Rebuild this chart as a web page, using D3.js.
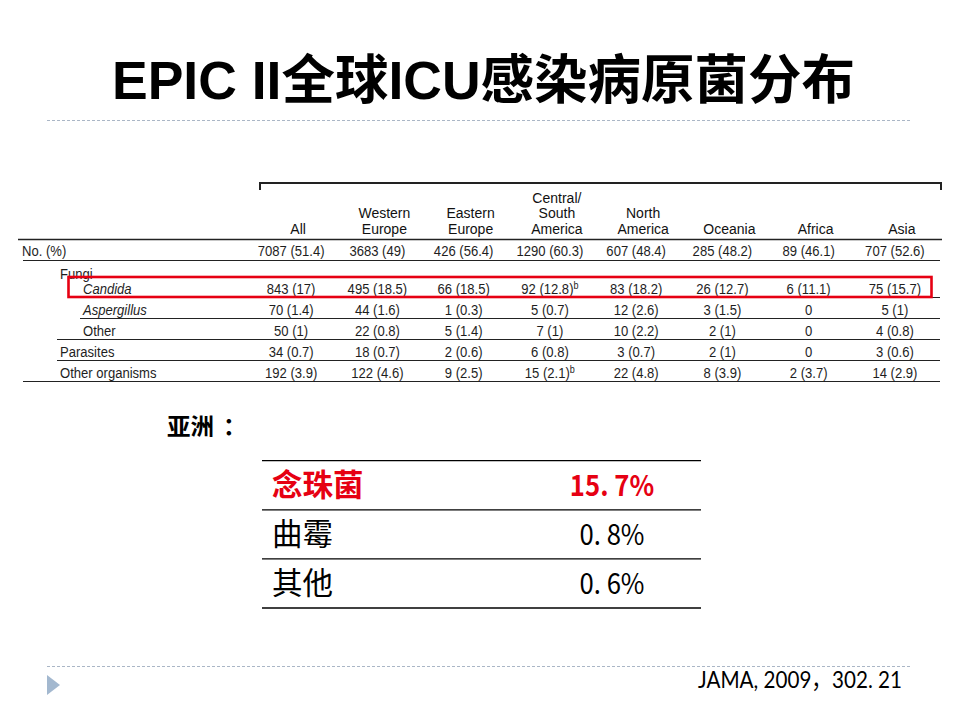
<!DOCTYPE html>
<html lang="zh">
<head>
<meta charset="utf-8">
<title>EPIC II</title>
<script src="https://cdnjs.cloudflare.com/ajax/libs/d3/7.8.5/d3.min.js"></script>
<style>
  body { margin: 0; background: #fff; }
  svg { display: block; }
</style>
</head>
<body>
<div id="chart"></div>
<script>
// column headers of the EPIC II table
const regions = ["All", "Western Europe", "Eastern Europe", "Central/South America",
                 "North America", "Oceania", "Africa", "Asia"];
const headerLines = [["All"], ["Western", "Europe"], ["Eastern", "Europe"],
                     ["Central/", "South", "America"], ["North", "America"],
                     ["Oceania"], ["Africa"], ["Asia"]];

// No. (%) row
const totalCount = [7087, 3683, 426, 1290, 607, 285, 89, 707];
const totalPct   = [51.4, 49, 56.4, 60.3, 48.4, 48.2, 46.1, 52.6];

// body rows
const rowLabels = ["Candida", "Aspergillus", "Other", "Parasites", "Other organisms"];
const candidaCount     = [843, 495, 66, 92, 83, 26, 6, 75];
const candidaPct       = [17, 18.5, 18.5, 12.8, 18.2, 12.7, 11.1, 15.7];
const aspergillusCount = [70, 44, 1, 5, 12, 3, 0, 5];
const aspergillusPct   = [1.4, 1.6, 0.3, 0.7, 2.6, 1.5, null, 1];
const otherFungiCount  = [50, 22, 5, 7, 10, 2, 0, 4];
const otherFungiPct    = [1, 0.8, 1.4, 1, 2.2, 1, null, 0.8];
const parasitesCount   = [34, 18, 2, 6, 3, 2, 0, 3];
const parasitesPct     = [0.7, 0.7, 0.6, 0.8, 0.7, 1, null, 0.6];
const otherOrgCount    = [192, 122, 9, 15, 22, 8, 2, 14];
const otherOrgPct      = [3.9, 4.6, 2.5, 2.1, 4.8, 3.9, 3.7, 2.9];
const footnoteRows = ["Candida", "Other organisms"];   // "b" in Central/South America

// Asia summary
const asiaLabels = ["念珠菌", "曲霉", "其他"];
const asiaPct    = [15.7, 0.8, 0.6];

const w = 960, h = 720;
const latin = "'Liberation Sans', Arial, Helvetica, sans-serif";
const cjk = "'Noto Sans CJK SC', 'Liberation Sans', sans-serif";
const red = "#e60012";

const svg = d3.select("#chart").append("svg")
    .attr("width", w)
    .attr("height", h);

// title
svg.append("text")
    .attr("x", 112)
    .attr("y", 99)
    .attr("font-family", "'Liberation Sans', 'Noto Sans CJK SC', sans-serif")
    .attr("font-weight", "bold")
    .attr("font-size", 53.5)
    .attr("fill", "#000")
    .text("EPIC II全球ICU感染病原菌分布");

svg.append("line")
    .attr("x1", 47).attr("x2", 912)
    .attr("y1", 120.5).attr("y2", 120.5)
    .attr("stroke", "#aab6c6")
    .attr("stroke-dasharray", "3,2");

// ---------- EPIC II table ----------
const xCol = d3.scaleBand().domain(regions).range([255, 945]);
const colC = r => xCol(r) + xCol.bandwidth() / 2;
const dataC = r => colC(r) - 7;

const rows = [
  {label: "Candida", count: candidaCount, pct: candidaPct, indent: 83, italic: true, lineX: 80},
  {label: "Aspergillus", count: aspergillusCount, pct: aspergillusPct, indent: 83, italic: true, lineX: 80},
  {label: "Other", count: otherFungiCount, pct: otherFungiPct, indent: 83, italic: false, lineX: 57},
  {label: "Parasites", count: parasitesCount, pct: parasitesPct, indent: 60, italic: false, lineX: 57},
  {label: "Other organisms", count: otherOrgCount, pct: otherOrgPct, indent: 60, italic: false, lineX: 23}
];
const yRow = d3.scaleBand().domain(rowLabels).range([276.5, 381.5]);

const table = svg.append("g")
    .attr("font-family", latin)
    .attr("fill", "#1e1e1e");

// bracket over the region columns
table.append("path")
    .attr("d", `M${xCol.range()[0] + 5},190 V183 H${xCol.range()[1] - 4} V190`)
    .attr("fill", "none")
    .attr("stroke", "#222")
    .attr("stroke-width", 2);

// headers
regions.forEach((r, i) => {
  const lines = headerLines[i];
  lines.forEach((t, j) => {
    table.append("text")
        .attr("x", colC(r))
        .attr("y", 233.5 - (lines.length - 1 - j) * 15.5)
        .attr("text-anchor", "middle")
        .attr("font-size", 14)
        .attr("fill", "#111")
        .text(t);
  });
});

// horizontal rules
const rule = (x1, x2, y, sw) => table.append("line")
    .attr("x1", x1).attr("x2", x2).attr("y1", y).attr("y2", y)
    .attr("stroke", "#222").attr("stroke-width", sw || 1);
rule(18, 942, 239.5, 1.4);
rule(23, 940, 260.5, 1.1);
rows.forEach(r => rule(r.lineX, 940, yRow(r.label) + yRow.bandwidth(), 1.1));

const cellText = (c, p) => p == null ? String(c) : `${c} (${p})`;
const cell = (x, y, str, opts) => {
  const t = table.append("text")
      .attr("transform", `translate(${x},${y}) scale(0.86,1)`)
      .attr("font-size", 15.2)
      .attr("text-anchor", (opts && opts.anchor) || "middle")
      .attr("font-style", opts && opts.italic ? "italic" : "normal")
      .text(str);
  if (opts && opts.sup) {
    t.append("tspan").attr("dy", -5).attr("font-size", 10.5).text("b");
  }
  return t;
};

// No. (%) row
cell(22, 255.5, "No. (%)", {anchor: "start"});
regions.forEach((r, i) => cell(dataC(r), 255.5, cellText(totalCount[i], totalPct[i])));

// Fungi group label
cell(60, 279, "Fungi", {anchor: "start"});

rows.forEach(row => {
  const y = yRow(row.label) + 17;
  cell(row.indent, y, row.label, {anchor: "start", italic: row.italic});
  regions.forEach((r, i) => {
    cell(dataC(r), y, cellText(row.count[i], row.pct[i]),
         {sup: r === "Central/South America" && footnoteRows.includes(row.label)});
  });
});

// red highlight around the Candida row
svg.append("rect")
    .attr("x", 68.5)
    .attr("y", yRow("Candida") + 0.5)
    .attr("width", 863)
    .attr("height", yRow.bandwidth() - 1)
    .attr("fill", "none")
    .attr("stroke", red)
    .attr("stroke-width", 2.6);

// ---------- Asia summary ----------
const asiaTitle = svg.append("text")
    .attr("x", 167)
    .attr("y", 435)
    .attr("font-family", cjk)
    .attr("font-weight", "bold")
    .attr("font-size", 23.5)
    .attr("fill", "#000")
    .text("亚洲");
asiaTitle.append("tspan").attr("dx", 9).text("：");

const yAsia = d3.scaleBand().domain(asiaLabels).range([460.7, 608]);
const asia = svg.append("g");
[...asiaLabels.map(l => yAsia(l)), yAsia.range()[1]].forEach(y => {
  asia.append("line")
      .attr("x1", 262).attr("x2", 701)
      .attr("y1", y).attr("y2", y)
      .attr("stroke", "#000")
      .attr("stroke-width", 1.3);
});

asiaLabels.forEach((l, i) => {
  const cy = yAsia(l) + yAsia.bandwidth() / 2;
  const hl = i === 0;
  asia.append("text")
      .attr("x", 272)
      .attr("y", cy)
      .attr("dy", "0.36em")
      .attr("font-family", cjk)
      .attr("font-weight", hl ? "bold" : "normal")
      .attr("font-size", 30.5)
      .attr("fill", hl ? red : "#000")
      .text(l);
  asia.append("text")
      .attr("transform", `translate(612,${cy}) scale(0.9,1)`)
      .attr("dy", "0.36em")
      .attr("text-anchor", "middle")
      .attr("font-family", cjk)
      .attr("font-weight", hl ? "bold" : "normal")
      .attr("font-size", 28.5)
      .attr("fill", hl ? red : "#000")
      .text(d3.format(".1f")(asiaPct[i]).replace(".", ". ") + "%");
});

// ---------- footer ----------
svg.append("line")
    .attr("x1", 47).attr("x2", 912)
    .attr("y1", 666.5).attr("y2", 666.5)
    .attr("stroke", "#aab6c6")
    .attr("stroke-dasharray", "3,2");

svg.append("path")
    .attr("d", "M47,675 L60,685 L47,695 Z")
    .attr("fill", "#a3b8cf");

svg.append("text")
    .attr("transform", "translate(902,688) scale(0.86,1)")
    .attr("text-anchor", "end")
    .attr("font-family", "Lato, 'Noto Sans CJK SC', sans-serif")
    .attr("font-size", 24)
    .attr("fill", "#000")
    .text("JAMA, 2009，302. 21");
</script>
</body>
</html>
